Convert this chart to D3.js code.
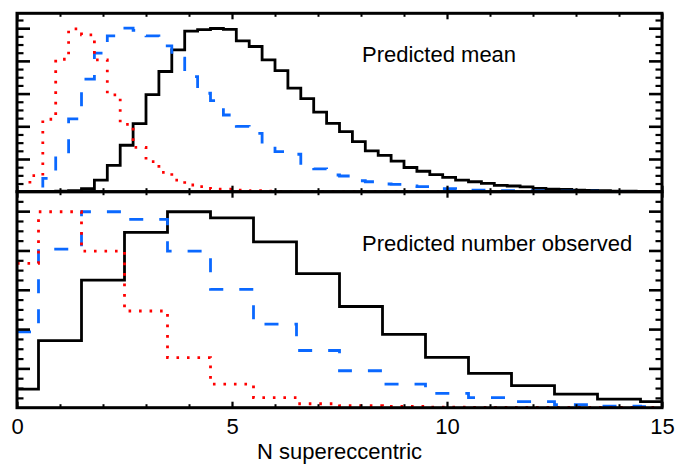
<!DOCTYPE html>
<html><head><meta charset="utf-8">
<script src="https://cdn.jsdelivr.net/npm/d3@7"></script>
<style>
html,body{margin:0;padding:0;background:#fff;}
svg{display:block;}
text{font-family:"Liberation Sans",Arial,Helvetica,sans-serif;}
</style></head>
<body>
<svg id="chart" width="678" height="467"></svg>
<script>
// ---- data ----
const topBinStarts = [0,0.3,0.6,0.9,1.2,1.5,1.8,2.1,2.4,2.7,3.0,3.3,3.6,3.9,4.2,4.5,4.8,5.1,5.4,5.7,
  6.0,6.3,6.6,6.9,7.2,7.5,7.8,8.1,8.4,8.7,9.0,9.3,9.6,9.9,10.2,10.5,10.8,11.1,11.4,11.7,
  12.0,12.3,12.6,12.9,13.2,13.5,13.8,14.1,14.4,14.7];
const topBlack = [0,0,0,0.004,0.006,0.018,0.071,0.161,0.284,0.416,
  0.594,0.735,0.867,0.982,0.991,0.998,0.993,0.922,0.888,0.806,
  0.741,0.633,0.569,0.487,0.418,0.367,0.306,0.25,0.222,0.187,
  0.148,0.125,0.104,0.087,0.071,0.061,0.051,0.039,0.035,0.029,
  0.02,0.016,0.014,0.01,0.008,0.006,0.004,0.004,0.002,0.002];
const topBlue = [0,0.01,0.082,0.224,0.445,0.688,0.847,0.953,1.0,0.986,
  0.953,0.892,0.816,0.704,0.602,0.557,0.469,0.4,0.357,0.286,
  0.245,0.229,0.153,0.139,0.102,0.096,0.067,0.061,0.047,0.045,
  0.035,0.031,0.029,0.018,0.017,0.01,0.009,0.007,0.006,0.006,
  0.005,0.004,0.004,0.003,0.003,0.002,0.002,0.002,0.001,0.001];
const topRed = [0,0.098,0.443,0.81,0.996,0.959,0.806,0.592,0.412,0.271,
  0.184,0.118,0.071,0.041,0.031,0.016,0.016,0.01,0.006,0.004,
  0.002,0,0,0,0,0,0,0,0,0,
  0,0,0,0,0,0,0,0,0,0,
  0,0,0,0,0,0,0,0,0,0];

const botBinStarts = [0,0.5,1.5,2.5,3.5,4.5,5.5,6.5,7.5,8.5,9.5,10.5,11.5,12.5,13.5,14.5];
const botBlack = [0.095,0.341,0.649,0.892,0.997,0.966,0.844,0.682,0.515,0.373,0.256,0.175,0.112,0.069,0.044,0.031];
const botBlue  = [0.386,0.807,0.997,0.958,0.797,0.602,0.425,0.291,0.188,0.12,0.073,0.051,0.031,0.015,0.008,0.005];
const botRed   = [0.734,0.997,0.797,0.492,0.255,0.12,0.051,0.02,0.01,0.006,0.003,0.002,0.001,0.001,0.001,0.001];

const xEnd = 15;
const xMajorTicks = [0,5,10,15];
const xMinorTicks = [1,2,3,4,6,7,8,9,11,12,13,14];
const xLabel = "N supereccentric";
const topTitle = "Predicted mean";
const botTitle = "Predicted number observed";

// ---- layout ----
const svg = d3.select("#chart");
const L = 17, R = 662;
const topY0 = 13.3, midY = 191.7, botY1 = 407.7;

const x = d3.scaleLinear().domain([0, 15]).range([L, R]);
const yTop = d3.scaleLinear().domain([0, 1.091]).range([midY, topY0]);
const yBot = d3.scaleLinear().domain([0, 1.099]).range([botY1, midY]);

const defs = svg.append("defs");
defs.append("clipPath").attr("id","clipTop").append("rect")
  .attr("x",L).attr("y",topY0).attr("width",R-L).attr("height",midY-topY0);
defs.append("clipPath").attr("id","clipBot").append("rect")
  .attr("x",L).attr("y",midY).attr("width",R-L).attr("height",botY1-midY);

const styles = {
  black:{stroke:"#000", dash:null, w:2.8},
  blue:{stroke:"#0a68ff", dash:"14,16", w:2.8},
  red:{stroke:"#ff0000", dash:"2.6,7.9", w:2.8}
};

function drawHist(g, starts, vals, y, st){
  const pts = starts.map((s,i)=>[s, vals[i]]);
  pts.push([xEnd, vals[vals.length-1]]);
  const line = d3.line().x(d=>x(d[0])).y(d=>y(d[1])).curve(d3.curveStepAfter);
  g.append("path").attr("d", line(pts)).attr("fill","none")
    .attr("stroke", st.stroke).attr("stroke-width", st.w)
    .attr("stroke-dasharray", st.dash).attr("stroke-linejoin","miter")
    .attr("stroke-linecap","butt");
}

const gTop = svg.append("g").attr("clip-path","url(#clipTop)");
drawHist(gTop, topBinStarts, topBlack, yTop, styles.black);
drawHist(gTop, topBinStarts, topBlue, yTop, styles.blue);
drawHist(gTop, topBinStarts, topRed, yTop, styles.red);

const gBot = svg.append("g").attr("clip-path","url(#clipBot)");
drawHist(gBot, botBinStarts, botBlack, yBot, styles.black);
drawHist(gBot, botBinStarts, botBlue, yBot, styles.blue);
drawHist(gBot, botBinStarts, botRed, yBot, styles.red);

// ---- axes / ticks ----
function styleAxis(g, w){
  g.select(".domain").remove();
  g.selectAll(".tick line").attr("stroke","#000").attr("stroke-width", w);
  g.selectAll(".tick text").remove();
}
function xTicks(yPos, dirUp){
  const mk = (vals, len, w) => {
    const ax = dirUp ? d3.axisBottom(x).tickValues(vals).tickSize(-len)
                     : d3.axisTop(x).tickValues(vals).tickSize(-len);
    const g = svg.append("g").attr("transform",`translate(0,${yPos})`).call(ax);
    styleAxis(g, w);
  };
  mk(xMajorTicks, 6, 2.2);
  mk(xMinorTicks, 3.5, 2);
}
xTicks(topY0, false);
xTicks(midY, true);
xTicks(midY, false);
xTicks(botY1, true);

function yTicks(y, majors, minors){
  const mk = (vals, len, w) => {
    const gl = svg.append("g").attr("transform",`translate(${L},0)`)
      .call(d3.axisLeft(y).tickValues(vals).tickSize(-len));
    styleAxis(gl, w);
    const gr = svg.append("g").attr("transform",`translate(${R},0)`)
      .call(d3.axisRight(y).tickValues(vals).tickSize(-len));
    styleAxis(gr, w);
  };
  mk(majors, 13, 2.6);
  mk(minors, 6.5, 2.2);
}
const yMajor = [0.2,0.4,0.6,0.8,1.0];
const yMinorTop = [0.05,0.1,0.15,0.25,0.3,0.35,0.45,0.5,0.55,0.65,0.7,0.75,0.85,0.9,0.95,1.05];
yTicks(yTop, yMajor, yMinorTop);
yTicks(yBot, yMajor, yMinorTop);

// frames
svg.append("rect").attr("x",L).attr("y",topY0).attr("width",R-L).attr("height",midY-topY0)
  .attr("fill","none").attr("stroke","#000").attr("stroke-width",3);
svg.append("rect").attr("x",L).attr("y",midY).attr("width",R-L).attr("height",botY1-midY)
  .attr("fill","none").attr("stroke","#000").attr("stroke-width",3);

// x tick labels
const lab = svg.append("g").attr("transform",`translate(0,${botY1})`)
  .call(d3.axisBottom(x).tickValues(xMajorTicks).tickSize(0).tickPadding(11).tickFormat(d3.format("d")));
lab.select(".domain").remove();
lab.selectAll("text").attr("font-size",22).attr("fill","#000")
  .attr("font-family",'"Liberation Sans",Arial,Helvetica,sans-serif');

svg.append("text").attr("x",(L+R)/2).attr("y",459).attr("text-anchor","middle")
  .attr("font-size",22).text(xLabel);

svg.append("text").attr("x",362).attr("y",62).attr("font-size",22).text(topTitle);
svg.append("text").attr("x",362).attr("y",251).attr("font-size",22).text(botTitle);
</script>
</body></html>
